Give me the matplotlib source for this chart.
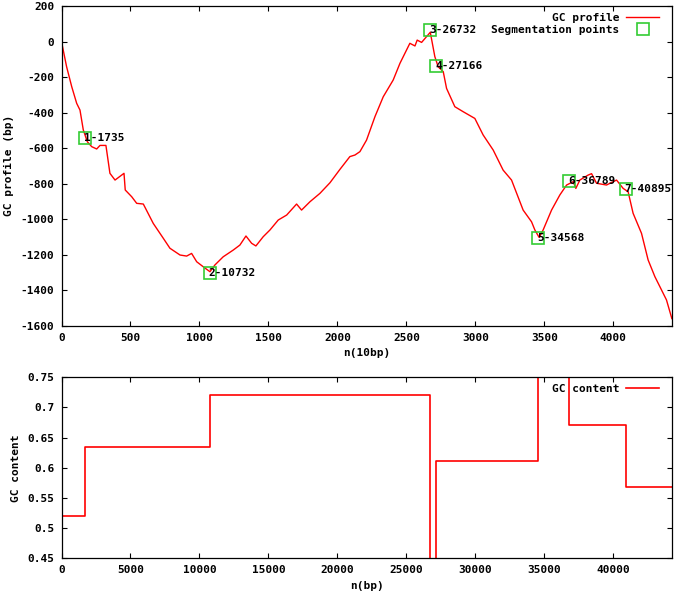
import matplotlib
matplotlib.use("Agg")
import matplotlib.pyplot as plt
from matplotlib.ticker import FixedLocator, FuncFormatter

plt.rcParams['font.family'] = ['DejaVu Sans Mono']
plt.rcParams['font.weight'] = 'bold'
plt.rcParams['axes.unicode_minus'] = False

# GC profile (x in units of 10 bp)
profile_x = [0, 37, 74, 110, 134, 158, 187, 219, 255, 279, 322, 351, 388, 436, 453, 462,
             509, 545, 593, 665, 738, 786, 859, 907, 943, 980, 1027, 1076, 1112, 1172,
             1245, 1293, 1337, 1378, 1409, 1462, 1511, 1571, 1632, 1704, 1740, 1801, 1873,
             1946, 2018, 2090, 2127, 2163, 2211, 2272, 2332, 2404, 2453, 2525, 2562, 2578,
             2610, 2673, 2706, 2730, 2767, 2791, 2851, 2911, 2996, 3056, 3129, 3201, 3262,
             3346, 3407, 3431, 3462, 3491, 3552, 3612, 3661, 3709, 3728, 3757, 3817, 3842,
             3878, 3950, 4023, 4071, 4107, 4143, 4204, 4252, 4301, 4337, 4385, 4424]
profile_y = [0, -142, -254, -348, -386, -498, -564, -592, -605, -585, -585, -742, -780, -752,
             -742, -836, -874, -911, -915, -1024, -1108, -1164, -1202, -1208, -1193, -1240,
             -1268, -1296, -1258, -1212, -1174, -1146, -1095, -1136, -1151, -1099, -1061,
             -1005, -977, -915, -949, -902, -855, -795, -720, -648, -639, -620, -555, -423,
             -311, -217, -123, -10, -25, 8, -5, 52, -85, -142, -170, -264, -367, -395, -433,
             -526, -611, -724, -780, -949, -1015, -1061, -1103, -1061, -949, -864, -808,
             -789, -827, -780, -752, -744, -798, -808, -780, -827, -846, -967, -1080, -1230,
             -1324, -1380, -1455, -1560]

# Segmentation points
seg_pos_bp = [1735, 10732, 26732, 27166, 34568, 36789, 40895]
seg_y = [-545, -1302, 65, -136, -1105, -786, -831]
seg_labels = ["1-1735", "2-10732", "3-26732", "4-27166", "5-34568", "6-36789", "7-40895"]

# GC content per segment
gc_bounds = [0, 1735, 10732, 26732, 27166, 34568, 36789, 40895, 44250]
gc_values = [0.52, 0.635, 0.72, 0.42, 0.611, 0.78, 0.671, 0.569]

top_xticks = [0, 500, 1000, 1500, 2000, 2500, 3000, 3500, 4000]
top_yticks = [200, 0, -200, -400, -600, -800, -1000, -1200, -1400, -1600]
bot_xticks = [0, 5000, 10000, 15000, 20000, 25000, 30000, 35000, 40000]
bot_yticks = [0.45, 0.5, 0.55, 0.6, 0.65, 0.7, 0.75]

RED = '#ff0000'
GREEN = '#33cc33'
FS = 8

fig = plt.figure(figsize=(6.75, 5.98), dpi=100)
ax1 = fig.add_axes([61.5/675, 1-325.7/598, (672-61.5)/675, (325.7-6)/598])
ax2 = fig.add_axes([61.5/675, 1-558.3/598, (672-61.5)/675, (558.3-377.3)/598])

ax1.plot(profile_x, profile_y, color=RED, lw=1.0, label='GC profile')
seg_x = [p/10 for p in seg_pos_bp]
ax1.plot(seg_x, seg_y, ls='none', marker='s', ms=8.5, mfc='none', mec=GREEN, mew=1.2,
         label='Segmentation points')
for x, y, t in zip(seg_x, seg_y, seg_labels):
    ax1.text(x - 8, y, t, fontsize=FS, fontweight='bold', ha='left', va='center')
ax1.set_xlim(0, 4425)
ax1.set_ylim(-1600, 200)
ax1.xaxis.set_major_locator(FixedLocator(top_xticks))
ax1.yaxis.set_major_locator(FixedLocator(top_yticks))
ax1.set_xlabel('n(10bp)', fontsize=FS, fontweight='bold', labelpad=4)
ax1.set_ylabel('GC profile (bp)', fontsize=FS, fontweight='bold', labelpad=5)
ax1.legend(loc='upper right', frameon=False, markerfirst=False, fontsize=FS,
           handlelength=3.0, handletextpad=0.6, labelspacing=0.2,
           borderaxespad=0.2, bbox_to_anchor=(0.99, 1.0))

step_x = gc_bounds
step_y = gc_values + [gc_values[-1]]
ax2.step(step_x, step_y, where='post', color=RED, lw=1.2, label='GC content')
ax2.set_xlim(0, 44250)
ax2.set_ylim(0.45, 0.75)
ax2.xaxis.set_major_locator(FixedLocator(bot_xticks))
ax2.yaxis.set_major_locator(FixedLocator(bot_yticks))
ax2.yaxis.set_major_formatter(FuncFormatter(lambda v, p: ('%g' % round(v, 2))))
ax2.set_xlabel('n(bp)', fontsize=FS, fontweight='bold', labelpad=4)
ax2.set_ylabel('GC content', fontsize=FS, fontweight='bold', labelpad=5)
ax2.legend(loc='upper right', frameon=False, markerfirst=False, fontsize=FS,
           handlelength=3.0, handletextpad=0.6, borderaxespad=0.2,
           bbox_to_anchor=(0.99, 1.0))

for ax in (ax1, ax2):
    ax.tick_params(direction='in', length=3.5, width=0.8, top=True, right=True,
                   labelsize=FS, pad=5)
    for lab in ax.get_xticklabels() + ax.get_yticklabels():
        lab.set_fontweight('bold')
    for s in ax.spines.values():
        s.set_linewidth(0.9)

fig.savefig('out.png', dpi=100)
